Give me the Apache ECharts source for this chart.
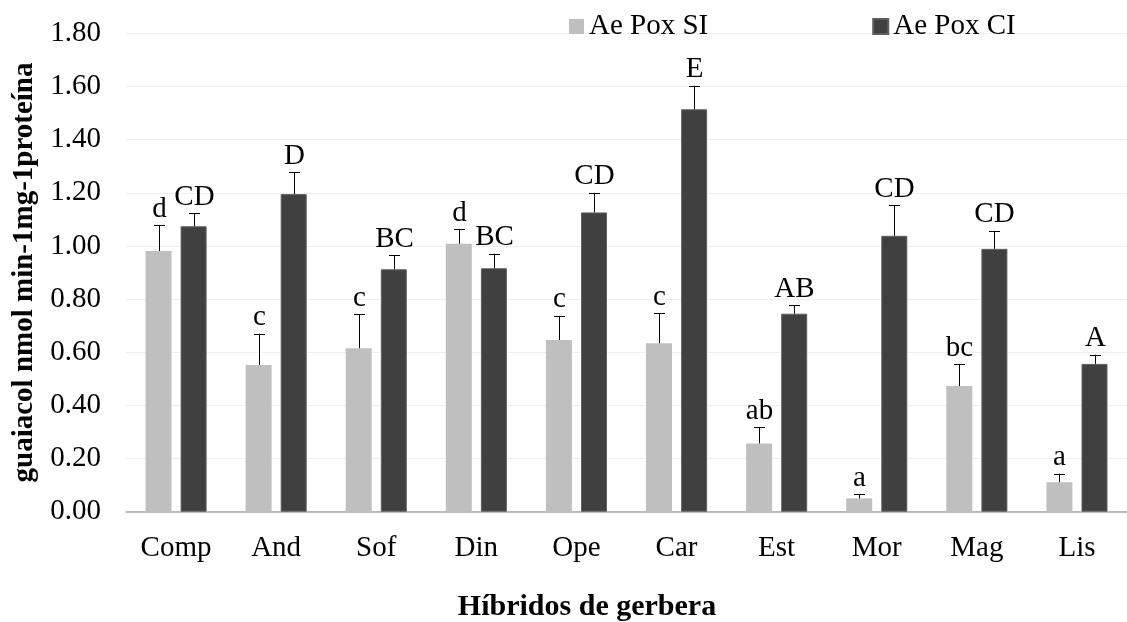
<!DOCTYPE html>
<html>
<head>
<meta charset="utf-8">
<script src="https://cdn.jsdelivr.net/npm/echarts@6/dist/echarts.min.js"></script>
<style>html,body{margin:0;padding:0;background:#fff}#chart{width:1127px;height:622px}</style>
</head>
<body>
<div id="chart"></div>
<script>
const categories = ['Comp','And','Sof','Din','Ope','Car','Est','Mor','Mag','Lis'];
const siValues  = [0.981, 0.552, 0.615, 1.008, 0.646, 0.634, 0.257, 0.050, 0.473, 0.111];
const siErrors  = [0.098, 0.118, 0.128, 0.056, 0.091, 0.112, 0.061, 0.015, 0.082, 0.032];
const siLetters = ['d','c','c','d','c','c','ab','a','bc','a'];
const ciValues  = [1.074, 1.195, 0.912, 0.916, 1.126, 1.514, 0.745, 1.038, 0.989, 0.556];
const ciErrors  = [0.049, 0.082, 0.053, 0.055, 0.074, 0.089, 0.033, 0.116, 0.068, 0.035];
const ciLetters = ['CD','D','BC','BC','CD','E','AB','CD','CD','A'];
const yTicks = ['0.00','0.20','0.40','0.60','0.80','1.00','1.20','1.40','1.60','1.80'];
const xTitle = 'Híbridos de gerbera';
const yTitle = 'guaiacol nmol min-1mg-1proteína';

const FONT = "'Liberation Serif','Times New Roman',serif";
const FS = 29;
const BAR_W = 26;
const BAR_GAP = 0.35;
const offSI = -(BAR_W + BAR_W * BAR_GAP) / 2;
const offCI = (BAR_W + BAR_W * BAR_GAP) / 2;

function errSeries(values, errors, letters, offset) {
  return {
    type: 'custom',
    silent: true,
    z: 5,
    encode: { x: 0, y: 1 },
    data: values.map((v, i) => [i, v, errors[i]]),
    renderItem: function (params, api) {
      const i = api.value(0), v = api.value(1), e = api.value(2);
      const p0 = api.coord([i, v]);
      const p1 = api.coord([i, v + e]);
      const x = Math.round(p0[0] + offset) + 0.5;
      const half = 5.5;
      return {
        type: 'group',
        children: [
          { type: 'line', shape: { x1: x, y1: p0[1], x2: x, y2: p1[1] }, style: { stroke: '#000', lineWidth: 1 } },
          { type: 'line', shape: { x1: x - half, y1: Math.round(p1[1]) + 0.5, x2: x + half, y2: Math.round(p1[1]) + 0.5 }, style: { stroke: '#000', lineWidth: 1 } },
          { type: 'text', style: { text: letters[i], x: x, y: p1[1] - 1.5, textAlign: 'center', textVerticalAlign: 'bottom', fontFamily: FONT, fontSize: FS, fill: '#000' } }
        ]
      };
    }
  };
}

const chart = echarts.init(document.getElementById('chart'), null, { renderer: 'canvas' });
chart.setOption({
  animation: false,
  backgroundColor: '#fff',
  textStyle: { fontFamily: FONT },
  grid: { left: 126, top: 33.3, width: 1013, height: 478.4, containLabel: false },
  legend: {
    data: ['Ae Pox SI', 'Ae Pox CI'],
    left: 564, top: 7,
    itemWidth: 15, itemHeight: 15, itemGap: 164,
    icon: 'rect',
    textStyle: { fontFamily: FONT, fontSize: FS, color: '#000' }
  },
  graphic: [{
    type: 'text', x: 587, y: 607,
    style: { text: xTitle, textAlign: 'center', textVerticalAlign: 'middle',
      fontFamily: FONT, fontSize: 30, fontWeight: 'bold', fill: '#000' }
  }],
  xAxis: {
    type: 'category',
    data: categories,
    axisLine: { lineStyle: { color: '#a6a6a6', width: 1.5 } },
    axisTick: { show: false },
    axisLabel: { fontFamily: FONT, fontSize: FS, color: '#000', margin: 22 }
  },
  yAxis: {
    type: 'value',
    min: 0, max: 1.8, interval: 0.2,
    axisLine: { show: false },
    axisTick: { show: false },
    splitLine: { lineStyle: { color: '#efefef', width: 1 } },
    axisLabel: { fontFamily: FONT, fontSize: FS, color: '#000', margin: 25,
      formatter: function (v) { const k = Math.round(v / 0.2); return yTicks[k] !== undefined ? yTicks[k] : v.toFixed(2); } },
    name: yTitle,
    nameLocation: 'middle',
    nameGap: 86,
    nameTextStyle: { fontFamily: FONT, fontSize: 29, fontWeight: 'bold', color: '#000' }
  },
  series: [
    { name: 'Ae Pox SI', type: 'bar', data: siValues, barWidth: BAR_W, barGap: '35%',
      itemStyle: { color: '#bfbfbf' } },
    { name: 'Ae Pox CI', type: 'bar', data: ciValues, barWidth: BAR_W, barGap: '35%',
      itemStyle: { color: '#404040', borderColor: '#5f5f5f', borderWidth: 1 } },
    errSeries(siValues, siErrors, siLetters, offSI),
    errSeries(ciValues, ciErrors, ciLetters, offCI)
  ]
});
</script>
</body>
</html>
